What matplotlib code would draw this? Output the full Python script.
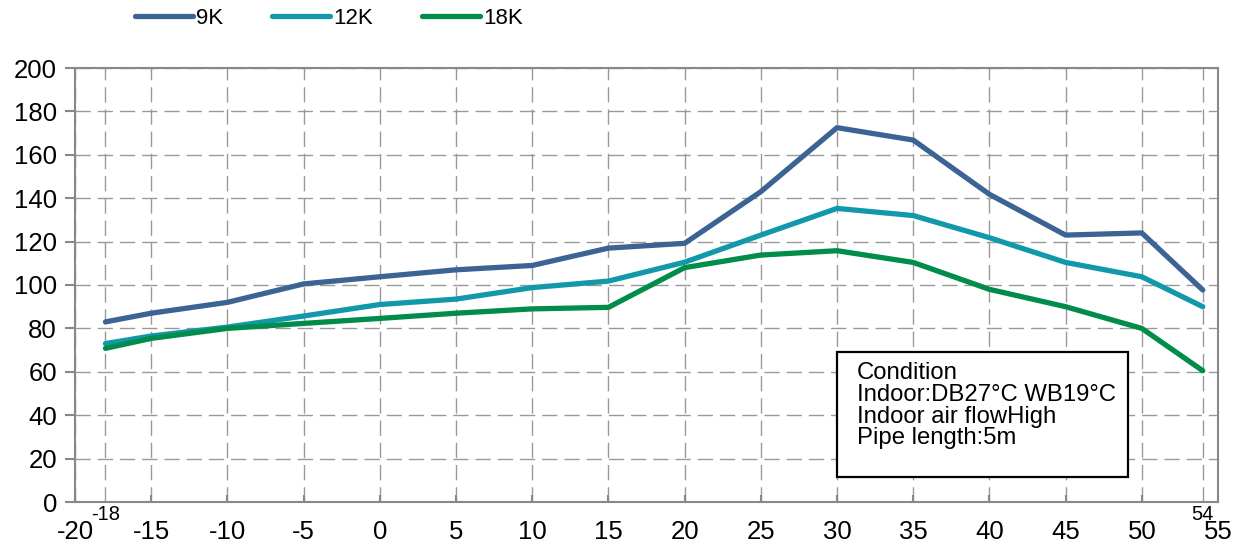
import matplotlib
matplotlib.use('Agg')
import matplotlib.pyplot as plt
from matplotlib.patches import Rectangle

plt.rcParams['font.family'] = ['Liberation Sans', 'DejaVu Sans']

# outdoor temperature points
temps = [-18, -15, -10, -5, 0, 5, 10, 15, 20, 25, 30, 35, 40, 45, 50, 54]
# values
cap_9k = [83, 87, 92, 100.5, 103.8, 107, 109, 117, 119.2, 143, 172.5, 166.8, 141.8, 123, 124, 97.7]
cap_12k = [73, 76.5, 80.6, 85.7, 91, 93.5, 98.8, 101.8, 110.5, 123, 135.3, 132, 121.8, 110.4, 103.8, 90]
cap_18k = [70.8, 75.4, 80, 82.3, 84.6, 87, 89, 89.7, 108, 113.8, 115.8, 110.4, 98, 90, 80, 60.5]

series = [('9K', cap_9k, '#3B6494'), ('12K', cap_12k, '#1199AA'), ('18K', cap_18k, '#008C4B')]

major_x = list(range(-20, 56, 5))
edge_x = [-18, 54]
y_ticks = list(range(0, 201, 20))

cond_lines = ['Condition', 'Indoor:DB27\u00b0C WB19\u00b0C', 'Indoor air flowHigh', 'Pipe length:5m']

fig = plt.figure(figsize=(12.36, 5.47), dpi=100)
ax = fig.add_axes([75/1236, 1-502/547, (1218-75)/1236, (502-68)/547])

for name, vals, col in series:
    ax.plot(temps, vals, color=col, lw=3.8, label=name, solid_capstyle='round', zorder=3)

ax.set_xlim(-20, 55)
ax.set_ylim(0, 200)

ax.set_xticks(major_x)
ax.set_xticklabels([str(v) for v in major_x])
ax.set_xticks(edge_x, minor=True)
ax.set_xticklabels([str(v) for v in edge_x], minor=True)
ax.set_yticks(y_ticks)

ax.tick_params(axis='x', which='major', direction='in', length=5, width=1.5,
               color='#888888', labelsize=18.5, pad=13)
ax.tick_params(axis='x', which='minor', length=0, labelsize=14.5, pad=2)
ax.tick_params(axis='y', direction='out', length=7, width=1.5, color='#888888',
               labelsize=18.5, pad=6)

gstyle = dict(color='#999999', lw=1.0, linestyle=(0, (11, 5)))
ax.grid(True, which='major', **gstyle)
ax.grid(True, which='minor', axis='x', **gstyle)
ax.set_axisbelow(True)

for s in ax.spines.values():
    s.set_color('#888888')
    s.set_linewidth(1.5)

# condition box
ax.add_patch(Rectangle((30, 11.5), 19.07, 57.6, fill=True, facecolor='white',
                       edgecolor='black', lw=1.6, zorder=4))
ax.text(31.3, 64.3, '\n'.join(cond_lines), fontsize=17.2, va='top', ha='left',
        linespacing=0.98, zorder=5)

fig.legend(loc='center left', bbox_to_anchor=(126/1236, 1-18/547), ncol=3,
           frameon=False, fontsize=16, handlelength=2.6, handletextpad=0.15,
           columnspacing=2.2, borderaxespad=0)

fig.savefig('out.png', dpi=100)
